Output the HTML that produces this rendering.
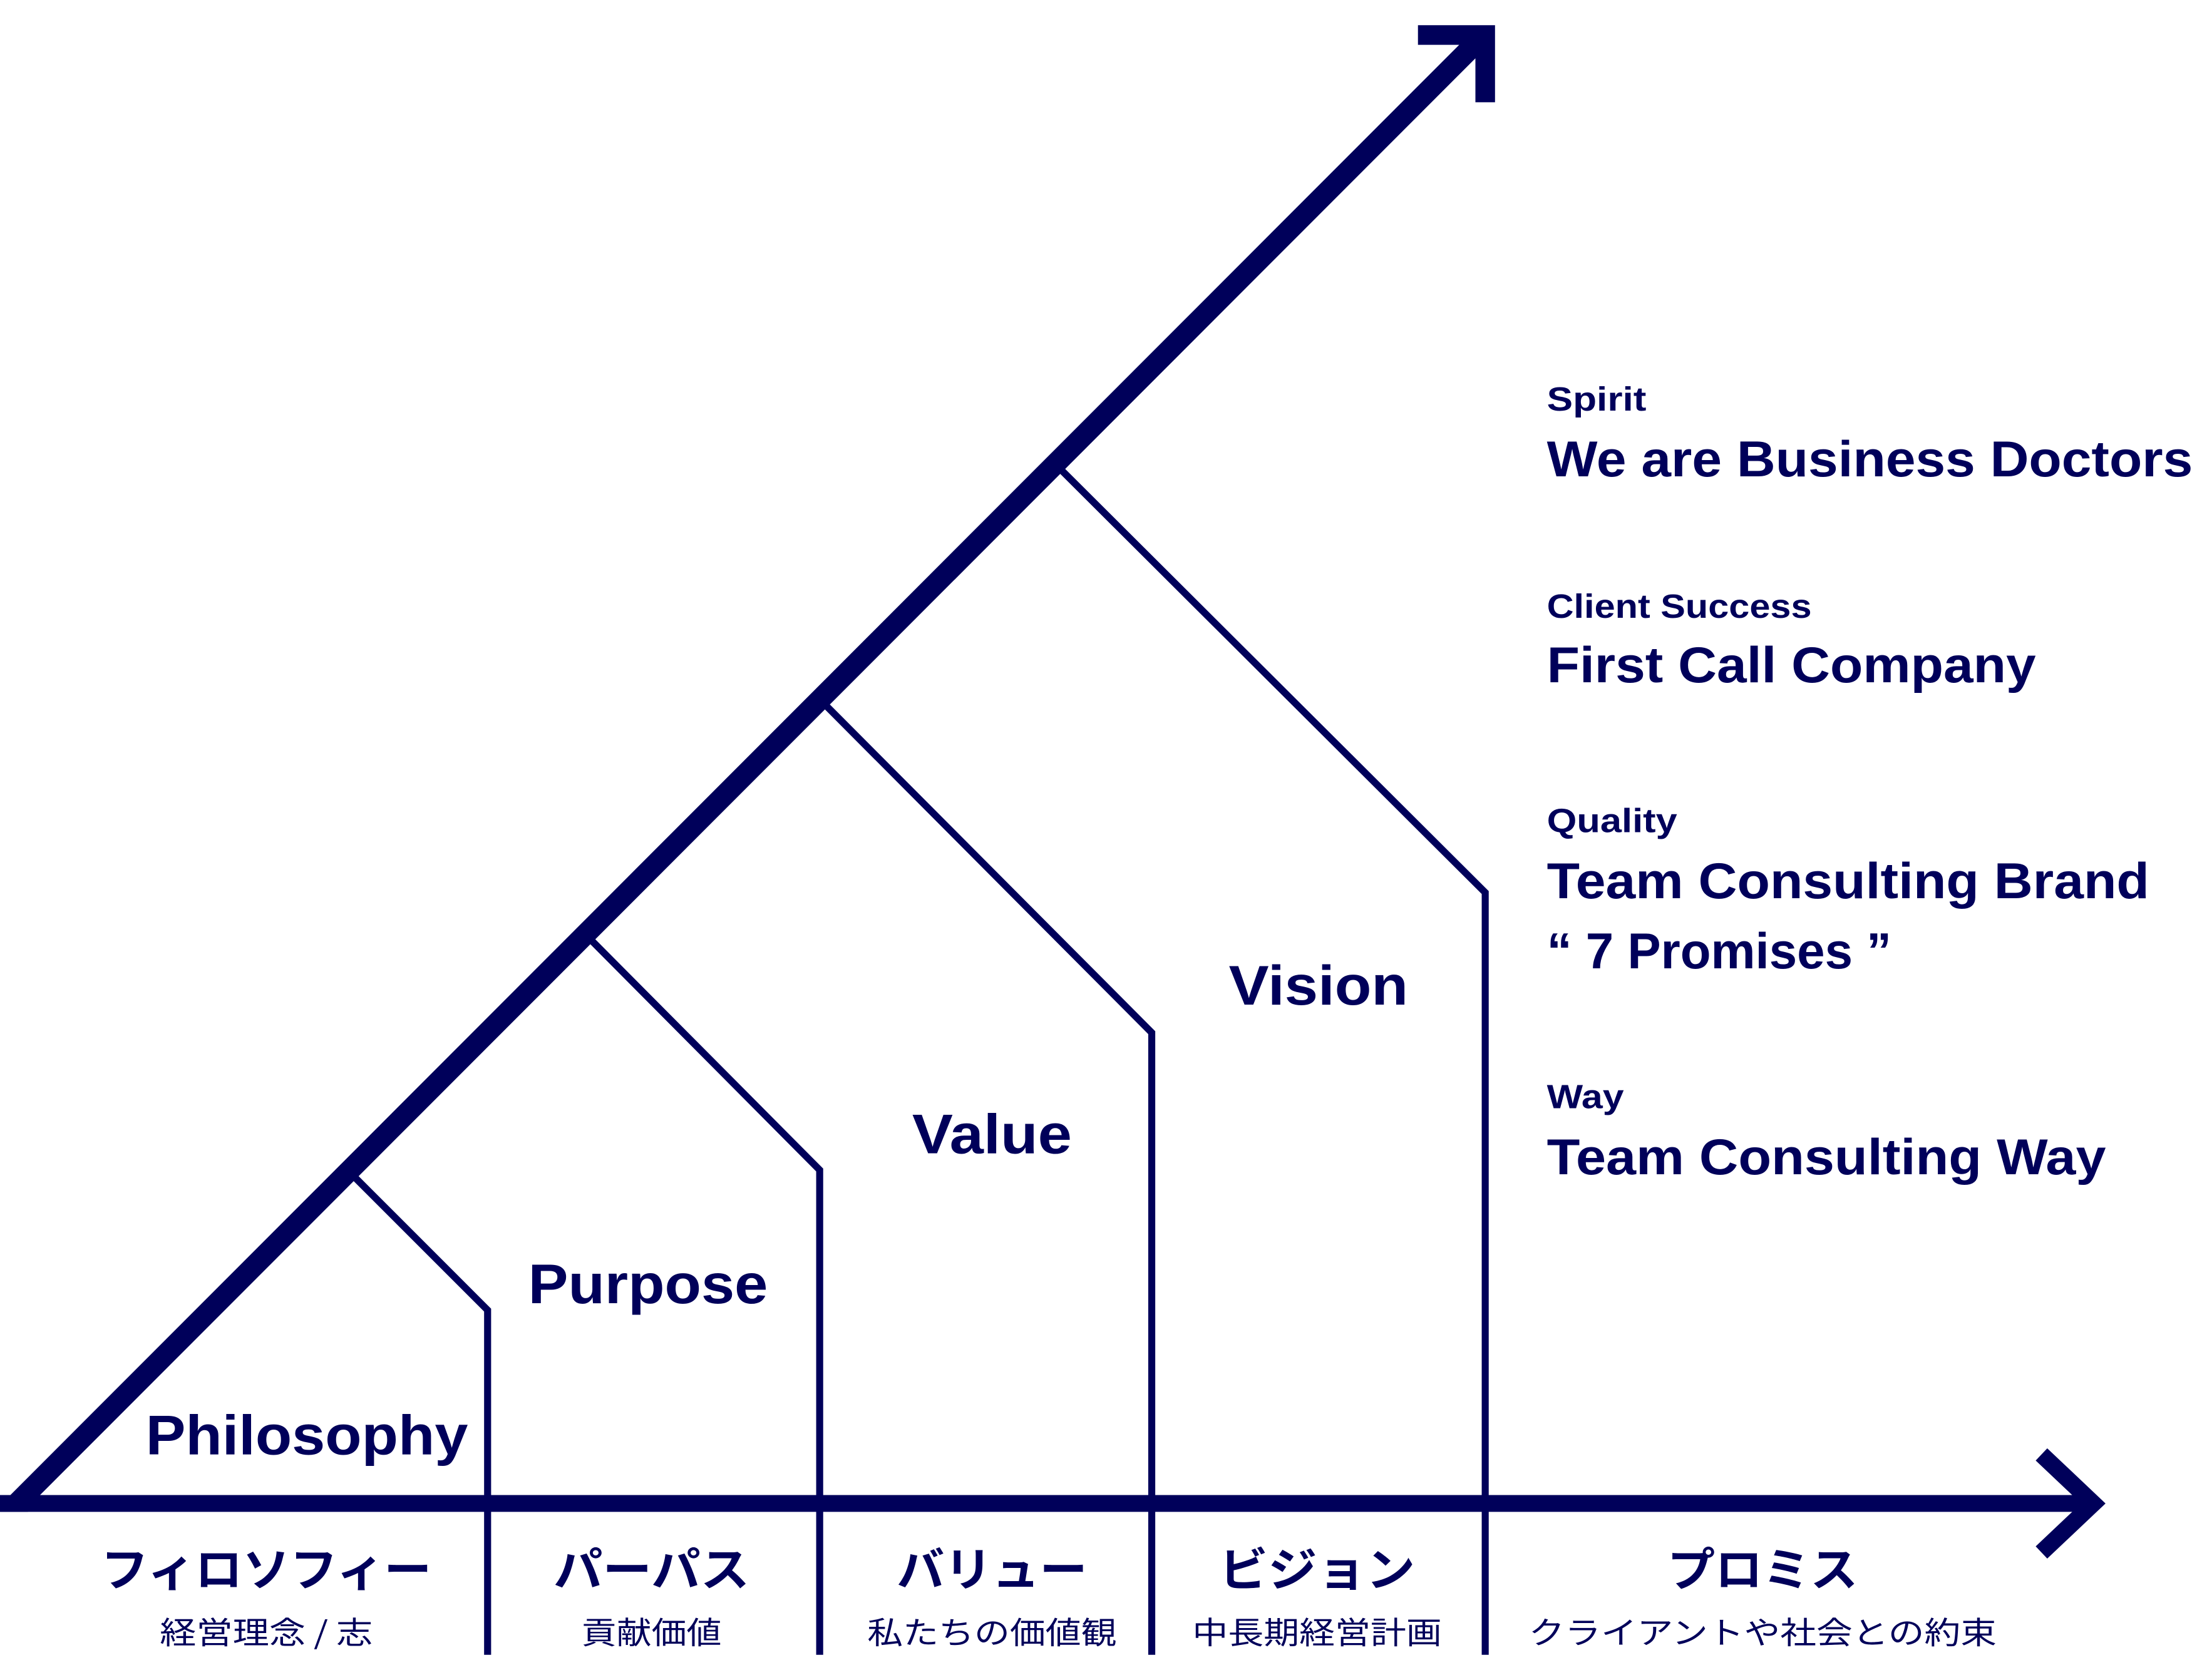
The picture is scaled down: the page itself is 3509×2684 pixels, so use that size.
<!DOCTYPE html>
<html><head><meta charset="utf-8"><style>
html,body{margin:0;padding:0;background:#fff;}
svg{display:block;}
text{font-family:"Liberation Sans","Noto Sans CJK JP",sans-serif;fill:#00005a;font-weight:bold;}
.jp{font-family:"Noto Sans CJK JP",sans-serif;}
text.sub{font-weight:normal;}
</style></head><body>
<svg width="3509" height="2684" viewBox="0 0 1568 1199" preserveAspectRatio="none" xmlns="http://www.w3.org/2000/svg">
<g stroke="#00005a" fill="none">
  <line x1="0" y1="1073" x2="1492" y2="1073" stroke-width="12"/>
  <polyline points="1457,1038 1494,1073 1457,1108" stroke-width="12" stroke-linejoin="miter"/>
  <line x1="12" y1="1073" x2="1058" y2="26" stroke-width="15"/>
  <polygon points="0,1079 20,1067 20,1079" fill="#00005a" stroke="none"/>
  <polyline points="1012,25 1060,25 1060,73" stroke-width="14" stroke-linejoin="miter"/>
  <g stroke-width="5">
    <polyline points="251,838 348,935 348,1181"/>
    <polyline points="418,667 585,835 585,1181"/>
    <polyline points="586,500 822,737 822,1181"/>
    <polyline points="753,331 1060,637 1060,1181"/>
  </g>
</g>
<text x="104" y="1038" font-size="40" textLength="230" lengthAdjust="spacingAndGlyphs">Philosophy</text>
<text x="377" y="930" font-size="40" textLength="171" lengthAdjust="spacingAndGlyphs">Purpose</text>
<text x="651" y="823" font-size="40" textLength="114" lengthAdjust="spacingAndGlyphs">Value</text>
<text x="877" y="717" font-size="40" textLength="128" lengthAdjust="spacingAndGlyphs">Vision</text>

<text x="1104" y="293" font-size="24" textLength="71" lengthAdjust="spacingAndGlyphs">Spirit</text>
<text x="1104" y="340" font-size="36" textLength="461" lengthAdjust="spacingAndGlyphs">We are Business Doctors</text>
<text x="1104" y="441" font-size="24" textLength="189" lengthAdjust="spacingAndGlyphs">Client Success</text>
<text x="1104" y="487" font-size="36" textLength="349" lengthAdjust="spacingAndGlyphs">First Call Company</text>
<text x="1104" y="594" font-size="24" textLength="93" lengthAdjust="spacingAndGlyphs">Quality</text>
<text x="1104" y="641" font-size="36" textLength="430" lengthAdjust="spacingAndGlyphs">Team Consulting Brand</text>
<text x="1104" y="691" font-size="36" textLength="246" lengthAdjust="spacingAndGlyphs">“ 7 Promises ”</text>
<text x="1104" y="791" font-size="24" textLength="55" lengthAdjust="spacingAndGlyphs">Way</text>
<text x="1104" y="838" font-size="36" textLength="399" lengthAdjust="spacingAndGlyphs">Team Consulting Way</text>

<g text-anchor="middle">
  <text class="jp" x="190" y="1132" font-size="33" textLength="236" lengthAdjust="spacingAndGlyphs">フィロソフィー</text>
  <text class="jp" x="465" y="1132" font-size="33" textLength="140" lengthAdjust="spacingAndGlyphs">パーパス</text>
  <text class="jp" x="708" y="1132" font-size="33" textLength="136" lengthAdjust="spacingAndGlyphs">バリュー</text>
  <text class="jp" x="940" y="1132" font-size="33" textLength="140" lengthAdjust="spacingAndGlyphs">ビジョン</text>
  <text class="jp" x="1258" y="1132" font-size="33" textLength="136" lengthAdjust="spacingAndGlyphs">プロミス</text>
  <text class="jp sub" x="190" y="1173" font-size="22" textLength="152" lengthAdjust="spacingAndGlyphs">経営理念 / 志</text>
  <text class="jp sub" x="465" y="1173" font-size="22" textLength="100" lengthAdjust="spacingAndGlyphs">貢献価値</text>
  <text class="jp sub" x="708" y="1173" font-size="22" textLength="178" lengthAdjust="spacingAndGlyphs">私たちの価値観</text>
  <text class="jp sub" x="940" y="1173" font-size="22" textLength="178" lengthAdjust="spacingAndGlyphs">中長期経営計画</text>
  <text class="jp sub" x="1258" y="1173" font-size="22" textLength="334" lengthAdjust="spacingAndGlyphs">クライアントや社会との約束</text>
</g>
</svg>
</body></html>
